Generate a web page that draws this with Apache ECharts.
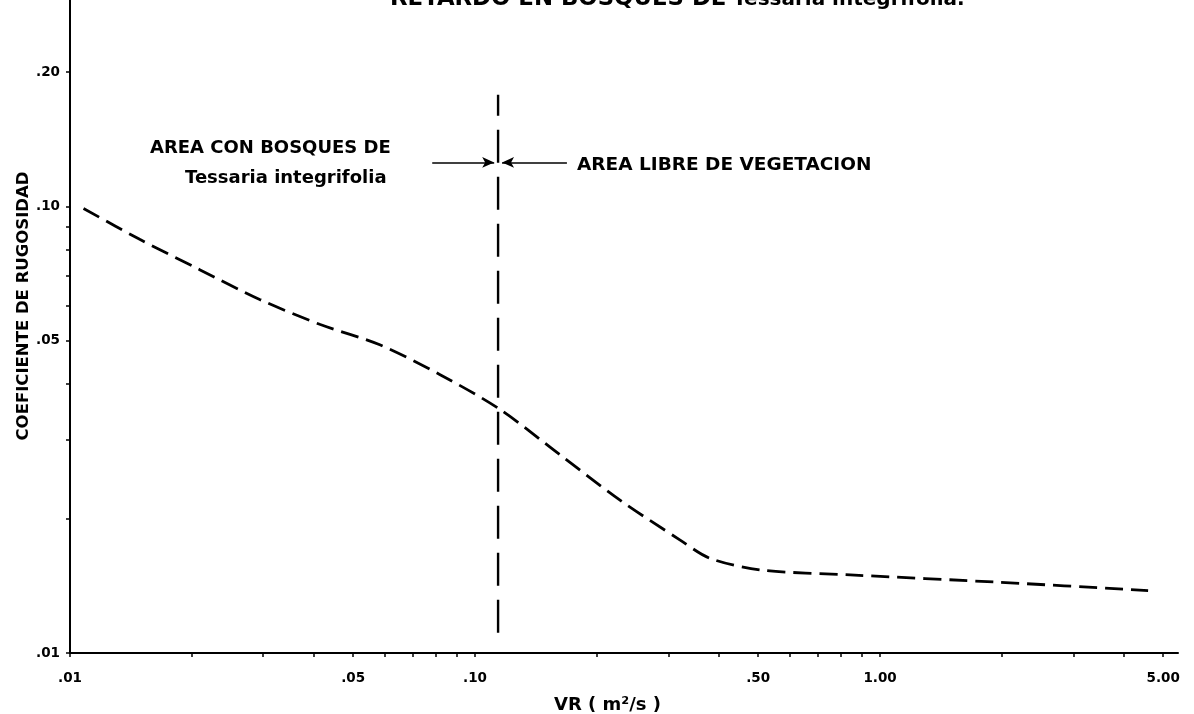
<!DOCTYPE html>
<html>
<head>
<meta charset="utf-8">
<script src="https://cdn.jsdelivr.net/npm/echarts@6/dist/echarts.min.js"></script>
<style>html,body{margin:0;padding:0;background:#fff;}#c{width:1194px;height:714px;}</style>
</head>
<body>
<div id="c"></div>
<script>
// Data
const curveVR = [0.0108, 0.0149, 0.0209, 0.0294, 0.0415, 0.0582, 0.082, 0.1153, 0.162, 0.228, 0.321, 0.380, 0.506, 0.844, 1.977, 4.59];
const curveN  = [0.099, 0.0843, 0.0722, 0.0619, 0.0544, 0.049, 0.042, 0.0351, 0.0278, 0.0220, 0.0179, 0.0163, 0.01535, 0.01496, 0.0144, 0.0138];
const boundaryVR = [0.114, 0.114];
const boundaryN = [0.0111, 0.178];
const arrowY = 0.1255;
const leftArrowVR = [0.0784, 0.1115];
const rightArrowVR = [0.1686, 0.1166];
const xLabelValues = [0.01, 0.05, 0.1, 0.5, 1, 5];
const xLabelTexts = ['.01', '.05', '.10', '.50', '1.00', '5.00'];
const xTickValues = [0.01,0.02,0.03,0.04,0.05,0.06,0.07,0.08,0.09,0.1,0.2,0.3,0.4,0.5,0.6,0.7,0.8,0.9,1,2,3,4,5];
const yLabelValues = [0.01, 0.05, 0.1, 0.2];
const yLabelTexts = ['.01', '.05', '.10', '.20'];
const yTickValues = [0.01,0.02,0.03,0.04,0.05,0.06,0.07,0.08,0.09,0.1,0.2];
const titleMain = 'RETARDO EN BOSQUES DE';
const titleSpecies = 'Tessaria integrifolia.';
const xName = 'VR ( m\u00B2/s )';
const yName = 'COEFICIENTE DE RUGOSIDAD';
const leftAreaText = ['AREA CON BOSQUES DE', 'Tessaria integrifolia'];
const rightAreaText = 'AREA LIBRE DE VEGETACION';

const FONT = '"DejaVu Sans", sans-serif';
const chart = echarts.init(document.getElementById('c'));
function fmt(vals, texts) {
  return function (v) {
    for (let i = 0; i < vals.length; i++) if (Math.abs(Math.log10(v) - Math.log10(vals[i])) < 1e-6) return texts[i];
    return '';
  };
}
const option = {
  backgroundColor: '#fff',
  animation: false,
  grid: { left: 70, right: 16, top: 0, bottom: 61 },
  xAxis: {
    type: 'log', min: 0.01, max: 5.44, logBase: 10,
    axisLine: { lineStyle: { color: '#000', width: 2 } },
    axisTick: { customValues: xTickValues, length: 4, lineStyle: { color: '#000', width: 1.5 } },
    axisLabel: { customValues: xLabelValues, formatter: fmt(xLabelValues, xLabelTexts), color: '#000', fontFamily: FONT, fontWeight: 'bold', fontSize: 13.5, margin: 18 },
    splitLine: { show: false }, minorTick: { show: false }
  },
  yAxis: {
    type: 'log', min: 0.01, max: 0.29, logBase: 10,
    axisLine: { lineStyle: { color: '#000', width: 2 } },
    axisTick: { customValues: yTickValues, length: 4, lineStyle: { color: '#000', width: 1.5 } },
    axisLabel: { customValues: yLabelValues, formatter: fmt(yLabelValues, yLabelTexts), color: '#000', fontFamily: FONT, fontWeight: 'bold', fontSize: 13.5, margin: 10 },
    splitLine: { show: false }
  },
  graphic: [
    { type: 'text', x: 390, y: 11, style: {
        text: '{a|' + titleMain + '}  {b|' + titleSpecies + '}', fill: '#000', verticalAlign: 'bottom',
        rich: { a: { font: 'bold 22.8px ' + FONT, fill: '#000' }, b: { font: 'bold 20px ' + FONT, fill: '#000' } } } },
    { type: 'text', x: 554, y: 705, style: { text: xName, font: 'bold 18px ' + FONT, fill: '#000', verticalAlign: 'middle' } },
    { type: 'text', x: 24, y: 306, rotation: Math.PI / 2, style: { text: yName, font: 'bold 16.5px ' + FONT, fill: '#000', align: 'center', verticalAlign: 'middle' } },
    { type: 'text', x: 150, y: 148, style: { text: leftAreaText[0], font: 'bold 18px ' + FONT, fill: '#000', verticalAlign: 'middle' } },
    { type: 'text', x: 185, y: 178, style: { text: leftAreaText[1], font: 'bold 18px ' + FONT, fill: '#000', verticalAlign: 'middle' } },
    { type: 'text', x: 577, y: 165, style: { text: rightAreaText, font: 'bold 18.5px ' + FONT, fill: '#000', verticalAlign: 'middle' } }
  ],
  series: [
    {
      type: 'line', data: curveVR.map((v, i) => [v, curveN[i]]), smooth: 0.3, symbol: 'none',
      lineStyle: { color: '#000', width: 2.8, type: [18, 8] }
    },
    {
      type: 'line', data: boundaryVR.map((v, i) => [v, boundaryN[i]]), symbol: 'none',
      lineStyle: { color: '#000', width: 2.4, type: [33, 14] },
      markLine: {
        silent: true, symbol: ['none', 'arrow'], symbolSize: [8, 12], label: { show: false },
        lineStyle: { color: '#000', width: 1.5, type: 'solid' },
        data: [
          [{ coord: [leftArrowVR[0], arrowY] }, { coord: [leftArrowVR[1], arrowY] }],
          [{ coord: [rightArrowVR[0], arrowY] }, { coord: [rightArrowVR[1], arrowY] }]
        ]
      }
    }
  ]
};
chart.setOption(option);
</script>
</body>
</html>
